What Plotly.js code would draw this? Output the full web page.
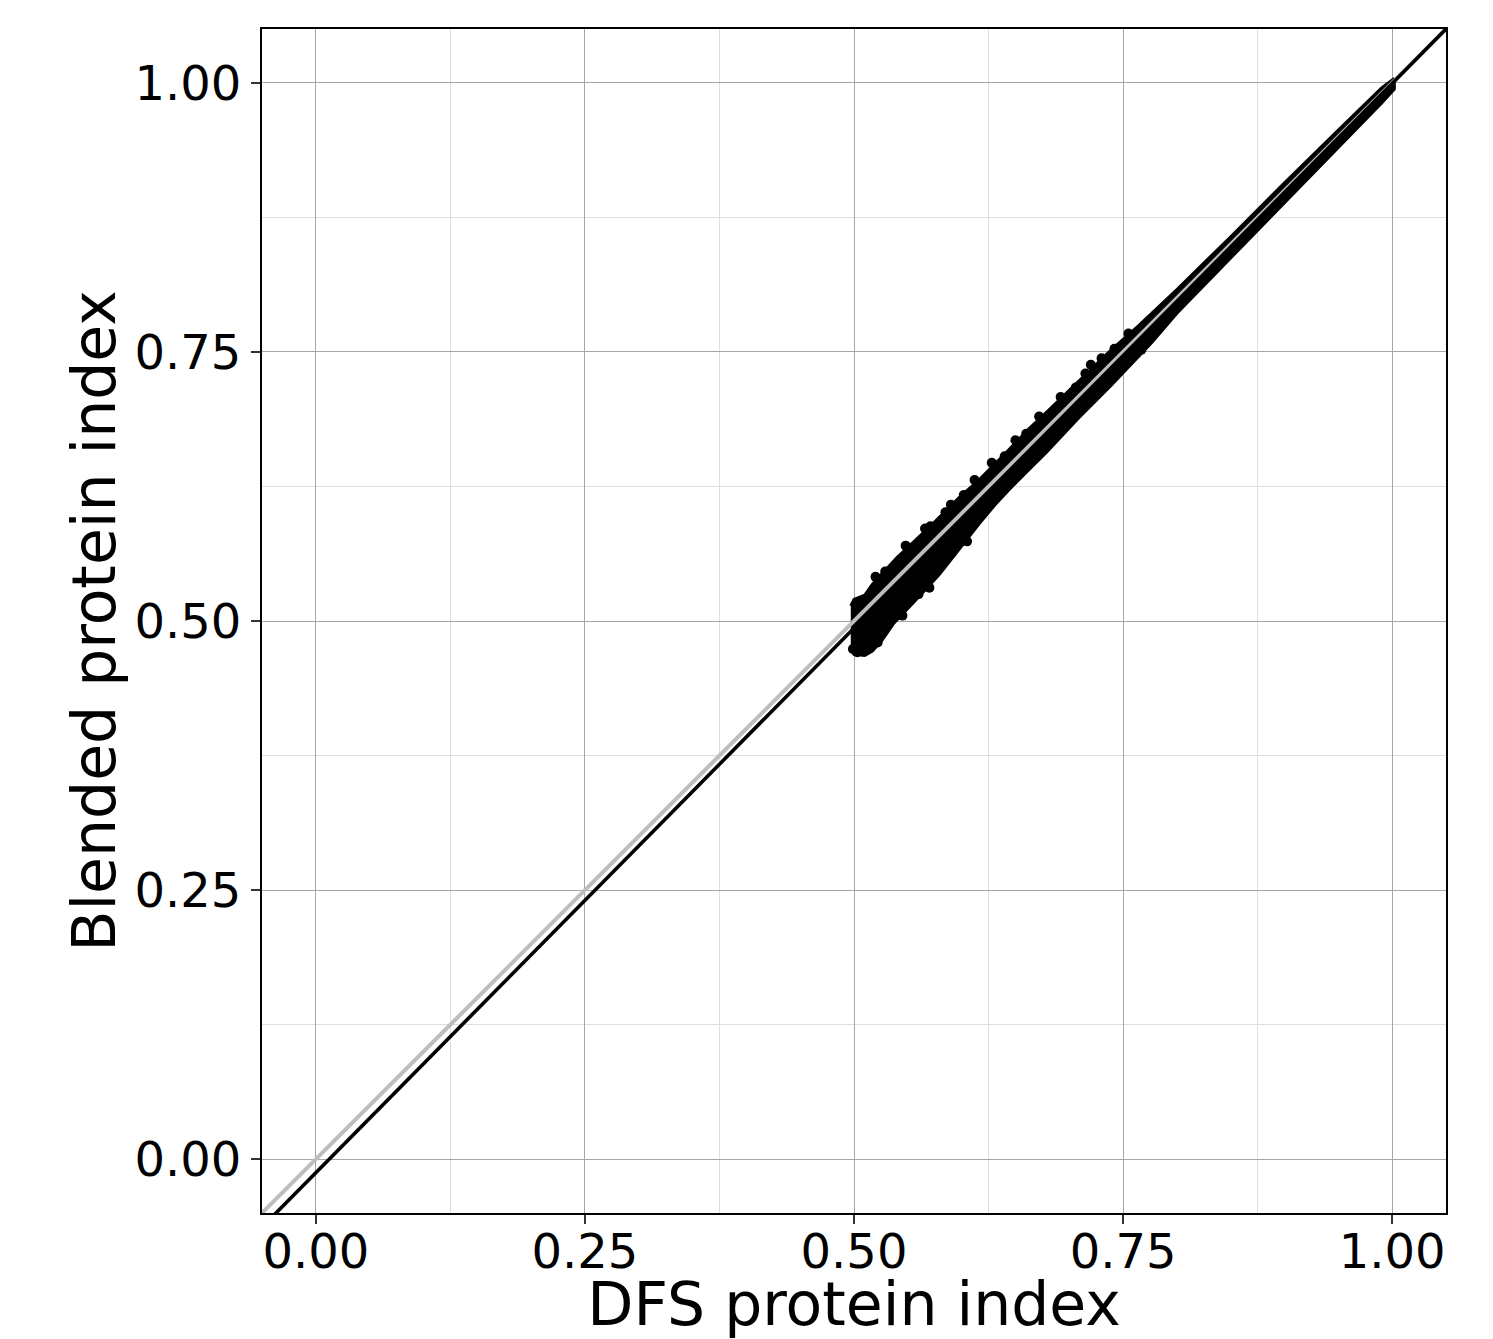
<!DOCTYPE html>
<html>
<head>
<meta charset="utf-8">
<script src="https://cdn.plot.ly/plotly-3.0.1.min.js"></script>
<style>html,body{margin:0;padding:0;background:#fff;}#chart{width:1493px;height:1339px;}</style>
</head>
<body>
<div id="chart"></div>
<script>
// Dense point cloud envelope
const upperX = [0.497, 0.500, 0.510, 0.517, 0.526, 0.540, 0.557, 0.576, 0.600, 0.613, 0.641, 0.662, 0.681, 0.702, 0.739, 0.764, 0.800, 0.850, 0.900, 0.950, 0.990, 1.002];
const upperY = [0.514, 0.520, 0.524, 0.534, 0.544, 0.559, 0.575, 0.593, 0.617, 0.628, 0.656, 0.678, 0.696, 0.716, 0.752, 0.774, 0.808, 0.857, 0.907, 0.956, 0.995, 1.004];
const lowerX = [0.497, 0.500, 0.510, 0.517, 0.526, 0.537, 0.557, 0.579, 0.594, 0.616, 0.631, 0.644, 0.662, 0.678, 0.708, 0.739, 0.776, 0.800, 0.850, 0.900, 0.950, 0.990, 1.002];
const lowerY = [0.474, 0.469, 0.468, 0.472, 0.482, 0.498, 0.519, 0.543, 0.562, 0.590, 0.608, 0.622, 0.640, 0.656, 0.688, 0.719, 0.758, 0.786, 0.838, 0.889, 0.940, 0.981, 0.994];

// Individual scattered points near the cloud edge
const pointX = [0.499, 0.503, 0.508, 0.522, 0.535, 0.543, 0.585, 0.602, 0.600, 0.616, 0.628, 0.720, 0.767, 0.560, 0.581, 0.660, 0.690, 0.529, 0.551, 0.571, 0.640, 0.706, 0.742,
                0.520, 0.548, 0.566, 0.590, 0.612, 0.650, 0.672, 0.692, 0.715, 0.730, 0.755, 0.545, 0.570, 0.605];
const pointY = [0.474, 0.471, 0.472, 0.480, 0.506, 0.557, 0.601, 0.617, 0.574, 0.597, 0.647, 0.738, 0.752, 0.525, 0.551, 0.674, 0.679, 0.546, 0.567, 0.588, 0.653, 0.717, 0.753,
                0.541, 0.570, 0.586, 0.608, 0.631, 0.668, 0.690, 0.708, 0.730, 0.744, 0.767, 0.505, 0.531, 0.574];

// Reference line (y = x) and fitted line
const refX = [-0.05, 1.05];
const refY = [-0.05, 1.05];
const fitX = [-0.05, 1.05];
const fitY = [-0.0632, 1.0500];

const tickVals = [0, 0.25, 0.5, 0.75, 1.0];
const tickText = ['0.00', '0.25', '0.50', '0.75', '1.00'];

const FONT = 'DejaVu Sans, sans-serif';

const cloudX = upperX.concat(lowerX.slice().reverse());
const cloudY = upperY.concat(lowerY.slice().reverse());

const traces = [
  {x: cloudX, y: cloudY, type: 'scatter', mode: 'lines', fill: 'toself', fillcolor: '#000',
   line: {color: '#000', width: 3}, hoverinfo: 'skip', showlegend: false},
  {x: pointX, y: pointY, type: 'scatter', mode: 'markers',
   marker: {color: '#000', size: 10}, showlegend: false},
  {x: refX, y: refY, type: 'scatter', mode: 'lines',
   line: {color: '#bdbdbd', width: 4}, showlegend: false},
  {x: fitX, y: fitY, type: 'scatter', mode: 'lines',
   line: {color: '#000', width: 3.6}, showlegend: false}
];

const axisCommon = {
  tickvals: tickVals, ticktext: tickText,
  ticks: 'outside', ticklen: 9, tickwidth: 1.5, tickcolor: '#333',
  tickfont: {family: FONT, size: 48, color: '#000'},
  showgrid: true, gridcolor: '#a6a6a6', gridwidth: 1,
  minor: {tickvals: [0.125, 0.375, 0.625, 0.875], showgrid: true, gridcolor: '#dedede', gridwidth: 1, ticks: ''},
  zeroline: false, showline: true, linecolor: '#000', linewidth: 2, mirror: true,
  automargin: false
};

const layout = {
  width: 1493, height: 1339,
  margin: {l: 262, r: 47, t: 29, b: 126},
  paper_bgcolor: '#fff', plot_bgcolor: '#fff',
  showlegend: false,
  xaxis: Object.assign({}, axisCommon, {
    range: [-0.05, 1.05],
    ticklabelstandoff: -14,
    title: {text: 'DFS protein index', font: {family: FONT, size: 60, color: '#000'}, standoff: 13}
  }),
  yaxis: Object.assign({}, axisCommon, {
    range: [-0.05, 1.05],
    title: {text: 'Blended protein index', font: {family: FONT, size: 60, color: '#000'}, standoff: 0}
  })
};

Plotly.newPlot('chart', traces, layout, {staticPlot: true, displayModeBar: false});
</script>
</body>
</html>
